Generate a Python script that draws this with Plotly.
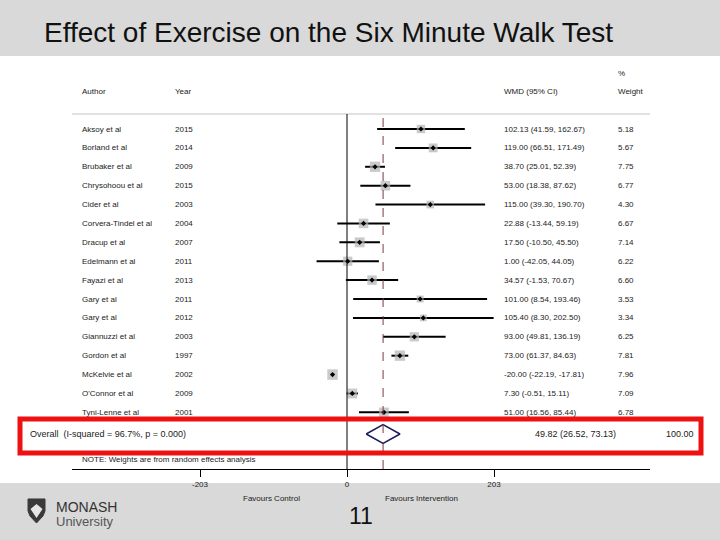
import math
import plotly.graph_objects as go

# ---------------------------------------------------------------------------
# Data
# ---------------------------------------------------------------------------
AUTHORS = [
    "Aksoy et al", "Borland et al", "Brubaker et al", "Chrysohoou et al",
    "Cider et al", "Corvera-Tindel et al", "Dracup et al", "Edelmann et al",
    "Fayazi et al", "Gary et al", "Gary et al", "Giannuzzi et al",
    "Gordon et al", "McKelvie et al", "O'Connor et al", "Tyni-Lenne et al",
]
YEARS = [2015, 2014, 2009, 2015, 2003, 2004, 2007, 2011,
         2013, 2011, 2012, 2003, 1997, 2002, 2009, 2001]
WMD = [102.13, 119.00, 38.70, 53.00, 115.00, 22.88, 17.50, 1.00,
       34.57, 101.00, 105.40, 93.00, 73.00, -20.00, 7.30, 51.00]
CI_LOW = [41.59, 66.51, 25.01, 18.38, 39.30, -13.44, -10.50, -42.05,
          -1.53, 8.54, 8.30, 49.81, 61.37, -22.19, -0.51, 16.56]
CI_HIGH = [162.67, 171.49, 52.39, 87.62, 190.70, 59.19, 45.50, 44.05,
           70.67, 193.46, 202.50, 136.19, 84.63, -17.81, 15.11, 85.44]
WEIGHTS = [5.18, 5.67, 7.75, 6.77, 4.30, 6.67, 7.14, 6.22,
           6.60, 3.53, 3.34, 6.25, 7.81, 7.96, 7.09, 6.78]

OVERALL_WMD = 49.82
OVERALL_LOW = 26.52
OVERALL_HIGH = 73.13
OVERALL_LABEL = "Overall  (I-squared = 96.7%, p = 0.000)"
OVERALL_WEIGHT = "100.00"

X_TICKS = [-203, 0, 203]

TITLE = "Effect of Exercise on the Six Minute Walk Test"
NOTE = "NOTE: Weights are from random effects analysis"

# ---------------------------------------------------------------------------
# Geometry helpers (pixel -> paper coordinates)
# ---------------------------------------------------------------------------
FIG_W, FIG_H = 720, 540
L, R, T, B = 72, 650, 56, 469          # plot area in pixels
PW, PH = R - L, B - T
ROW0_PX, ROW_STEP = 129, 18.89         # pixel y of first study row, spacing
ZERO_PX = 347
PX_PER_UNIT = (494 - ZERO_PX) / 203


def px_x(px):
    return (px - L) / PW


def px_y(py):
    return (B - py) / PH


def row_of(py):
    return (py - ROW0_PX) / ROW_STEP


rows = list(range(len(AUTHORS)))
overall_row = row_of(434)
FONT = "Liberation Sans, Arial, sans-serif"
TXT = "#222222"

fig = go.Figure()

# CI lines
ci_x, ci_y = [], []
for r, lo, hi in zip(rows, CI_LOW, CI_HIGH):
    ci_x += [lo, hi, None]
    ci_y += [r, r, None]
fig.add_trace(go.Scatter(x=ci_x, y=ci_y, mode="lines",
                         line=dict(color="black", width=2), hoverinfo="skip"))

# weight boxes
fig.add_trace(go.Scatter(
    x=WMD, y=rows, mode="markers",
    marker=dict(symbol="square", color="#b4b4b4",
                size=[3.7 * math.sqrt(w) for w in WEIGHTS], line=dict(width=0)),
))
# point estimates
fig.add_trace(go.Scatter(
    x=WMD, y=rows, mode="markers",
    marker=dict(symbol="diamond", color="black", size=4),
))

# overall diamond
h = 0.5
fig.add_trace(go.Scatter(
    x=[OVERALL_LOW, OVERALL_WMD, OVERALL_HIGH, OVERALL_WMD, OVERALL_LOW],
    y=[overall_row, overall_row - h, overall_row, overall_row + h, overall_row],
    mode="lines", line=dict(color="#1c1c5c", width=1.5),
))

# ---------------------------------------------------------------------------
# Shapes
# ---------------------------------------------------------------------------
# slide bands
fig.add_shape(type="rect", xref="paper", yref="paper", layer="below",
              x0=px_x(0), x1=px_x(FIG_W), y0=px_y(0), y1=px_y(56),
              fillcolor="#d9d9d9", line=dict(width=0))
fig.add_shape(type="rect", xref="paper", yref="paper", layer="below",
              x0=px_x(0), x1=px_x(FIG_W), y0=px_y(483), y1=px_y(FIG_H),
              fillcolor="#d9d9d9", line=dict(width=0))
# header rule
fig.add_shape(type="line", xref="paper", yref="paper",
              x0=0, x1=1, y0=px_y(114), y1=px_y(114),
              line=dict(color="#c4c4c4", width=1))
# null line and overall line
fig.add_shape(type="line", xref="x", yref="paper",
              x0=0, x1=0, y0=0, y1=px_y(114),
              line=dict(color="black", width=1))
fig.add_shape(type="line", xref="x", yref="paper",
              x0=OVERALL_WMD, x1=OVERALL_WMD, y0=0, y1=px_y(114),
              line=dict(color="#7a3b3b", width=1, dash="dash"))
# red highlight box
fig.add_shape(type="rect", xref="paper", yref="paper",
              x0=px_x(20), x1=px_x(701), y0=px_y(453), y1=px_y(419),
              line=dict(color="#ee1111", width=5), fillcolor="rgba(0,0,0,0)")

# Monash shield
shield = [(28, 499), (45, 499), (45, 511), (43, 516), (36.5, 523),
          (30, 516), (28, 511)]
path = "M " + " L ".join(f"{px_x(a):.4f},{px_y(b):.4f}" for a, b in shield) + " Z"
fig.add_shape(type="path", xref="paper", yref="paper", path=path,
              fillcolor="#3a3a3a", line=dict(color="#3a3a3a", width=1))
chev = [(30.5, 509), (36.5, 504), (42.5, 509), (36.5, 518)]
path2 = "M " + " L ".join(f"{px_x(a):.4f},{px_y(b):.4f}" for a, b in chev) + " Z"
fig.add_shape(type="path", xref="paper", yref="paper", path=path2,
              fillcolor="#e6e6e6", line=dict(width=0))

# ---------------------------------------------------------------------------
# Text
# ---------------------------------------------------------------------------
def note(text, x_px, y, yref="y", size=8, xanchor="left", color=TXT):
    fig.add_annotation(text=text, x=px_x(x_px), xref="paper", y=y, yref=yref,
                       xanchor=xanchor, yanchor="middle", showarrow=False,
                       font=dict(size=size, color=color, family=FONT))


note("Author", 80, row_of(91))
note("Year", 173, row_of(91))
note("WMD (95% CI)", 502, row_of(91))
note("%", 616, row_of(73))
note("Weight", 616, row_of(91))

for r, a, yr, est, lo, hi, w in zip(rows, AUTHORS, YEARS, WMD, CI_LOW, CI_HIGH, WEIGHTS):
    note(a, 80, r)
    note(str(yr), 173, r)
    note(f"{est:.2f} ({lo:.2f}, {hi:.2f})", 502, r)
    note(f"{w:.2f}", 616, r)

note(OVERALL_LABEL, 28, overall_row, size=9)
note(f"{OVERALL_WMD:.2f} ({OVERALL_LOW:.2f}, {OVERALL_HIGH:.2f})", 533, overall_row, size=9)
note(OVERALL_WEIGHT, 664, overall_row, size=9)
note(NOTE, 80, row_of(459))

note("Favours Control", 271, px_y(498), yref="paper", xanchor="center")
note("Favours Intervention", 383, px_y(498), yref="paper")

note(TITLE, 42, px_y(32), yref="paper", size=28, color="#111111")
note("11", 361, px_y(516), yref="paper", size=23, xanchor="center", color="#111111")
note("MONASH", 54, px_y(507), yref="paper", size=14, color="#333333")
note("University", 54, px_y(521), yref="paper", size=13, color="#555555")

# ---------------------------------------------------------------------------
# Layout
# ---------------------------------------------------------------------------
fig.update_layout(
    width=FIG_W, height=FIG_H,
    margin=dict(l=L, r=FIG_W - R, t=T, b=FIG_H - B, pad=0),
    paper_bgcolor="white", plot_bgcolor="rgba(0,0,0,0)",
    showlegend=False,
    font=dict(family=FONT, color=TXT),
    xaxis=dict(
        range=[(L - ZERO_PX) / PX_PER_UNIT, (R - ZERO_PX) / PX_PER_UNIT],
        showgrid=False, zeroline=False, showline=True, linecolor="black", linewidth=1,
        ticks="outside", ticklen=7, tickcolor="black",
        tickvals=X_TICKS, ticktext=[str(t) for t in X_TICKS],
        tickfont=dict(size=8, color=TXT),
    ),
    yaxis=dict(
        range=[row_of(B), row_of(T)],
        showgrid=False, zeroline=False, showline=False, showticklabels=False,
    ),
)

# page body has a default 8px margin; drop it so the slide fills the window
fig.write_html("out.html", config={"displayModeBar": False},
               post_script="document.body.style.margin='0';document.body.style.overflow='hidden';")
